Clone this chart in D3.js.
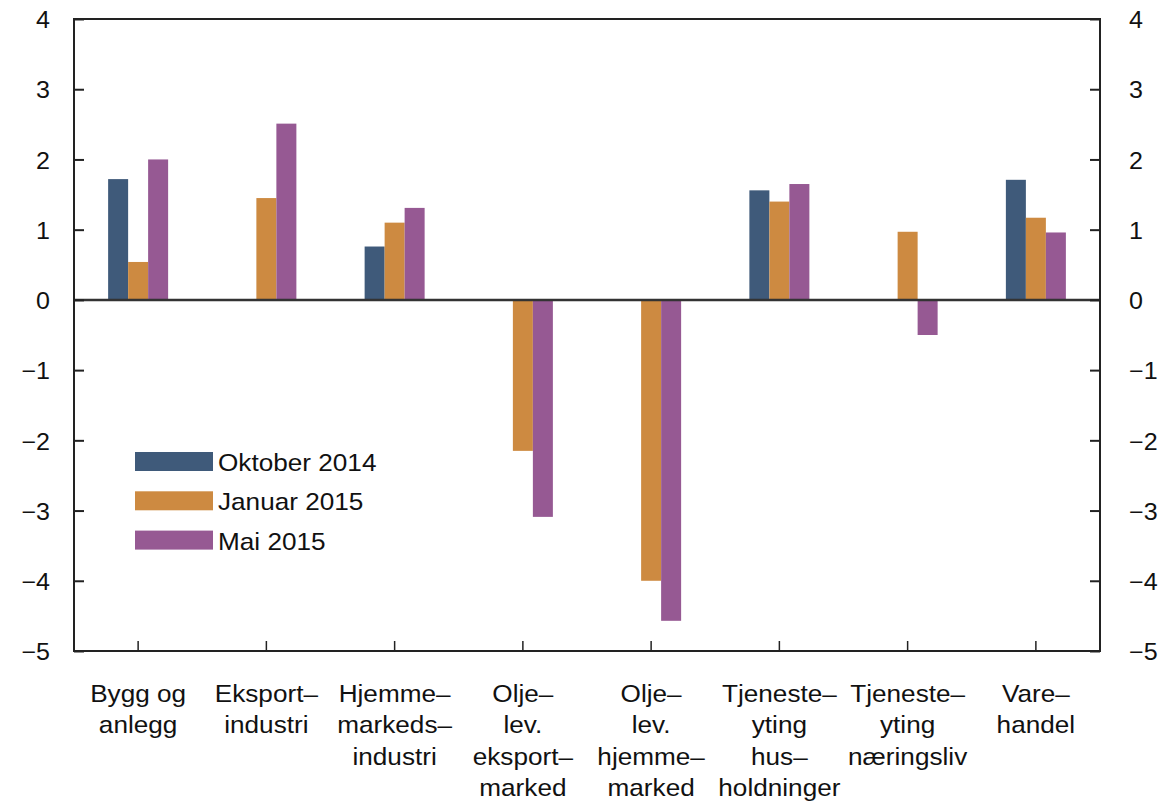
<!DOCTYPE html>
<html>
<head>
<meta charset="utf-8">
<script src="https://cdn.jsdelivr.net/npm/d3@7"></script>
<style>
  html, body { margin: 0; padding: 0; background: #fff; }
  svg { display: block; font-family: "Liberation Sans", Arial, Helvetica, sans-serif; }
</style>
</head>
<body>
<svg id="chart" width="1166" height="801"></svg>
<script>
// Sector categories, each label split into lines
const categories = [
  ["Bygg og", "anlegg"],
  ["Eksport\u2013", "industri"],
  ["Hjemme\u2013", "markeds\u2013", "industri"],
  ["Olje\u2013", "lev.", "eksport\u2013", "marked"],
  ["Olje\u2013", "lev.", "hjemme\u2013", "marked"],
  ["Tjeneste\u2013", "yting", "hus\u2013", "holdninger"],
  ["Tjeneste\u2013", "yting", "næringsliv"],
  ["Vare\u2013", "handel"]
];
const seriesNames = ["Oktober 2014", "Januar 2015", "Mai 2015"];
const oktober2014 = [1.72, null, 0.76, null, null, 1.56, null, 1.71];
const januar2015 = [0.54, 1.45, 1.10, -2.15, -4.00, 1.40, 0.97, 1.17];
const mai2015 = [2.00, 2.51, 1.31, -3.09, -4.57, 1.65, -0.50, 0.96];
const yTicks = [4, 3, 2, 1, 0, -1, -2, -3, -4, -5];
const colors = ["#3f5a7a", "#cd8a41", "#965993"];

const series = [oktober2014, januar2015, mai2015];

const svg = d3.select("#chart");
const plotLeft = 74, plotRight = 1100, plotTop = 19, plotBottom = 651;
const wide = 1.09; // horizontal widening of the text face

const x = d3.scaleBand().domain(d3.range(categories.length)).range([plotLeft, plotRight]).paddingInner(0).paddingOuter(0);
const xs = d3.scaleBand().domain(d3.range(series.length)).range([-30, 30]);
const y = d3.scaleLinear().domain([-5, 4]).range([plotBottom, plotTop]);

// Bars
series.forEach((vals, si) => {
  svg.append("g")
    .selectAll("rect")
    .data(vals.map((v, i) => ({ v, i })).filter(d => d.v !== null))
    .join("rect")
    .attr("x", d => x(d.i) + x.bandwidth() / 2 + xs(si))
    .attr("width", xs.bandwidth())
    .attr("y", d => y(Math.max(0, d.v)))
    .attr("height", d => Math.abs(y(d.v) - y(0)))
    .attr("fill", colors[si]);
});

// Zero line
svg.append("line")
  .attr("x1", plotLeft).attr("x2", plotRight)
  .attr("y1", y(0)).attr("y2", y(0))
  .attr("stroke", "#333").attr("stroke-width", 2.5);

// Frame
svg.append("rect")
  .attr("x", plotLeft).attr("y", plotTop)
  .attr("width", plotRight - plotLeft).attr("height", plotBottom - plotTop)
  .attr("fill", "none").attr("stroke", "#222").attr("stroke-width", 2);

const fmt = v => (v < 0 ? "\u2212" + Math.abs(v) : String(v));

// Left axis
const yl = svg.append("g").attr("transform", `translate(${plotLeft},0)`)
  .call(d3.axisLeft(y).tickValues(yTicks).tickSize(-10).tickPadding(24).tickFormat(fmt));
// Right axis
const yr = svg.append("g").attr("transform", `translate(${plotRight},0)`)
  .call(d3.axisRight(y).tickValues(yTicks).tickSize(-10).tickPadding(29).tickFormat(fmt));
[yl, yr].forEach(g => {
  g.select(".domain").remove();
  g.selectAll(".tick line").attr("stroke", "#222").attr("stroke-width", 2);
  g.selectAll(".tick text")
    .attr("font-size", 23).attr("fill", "#111")
    .attr("font-family", "Liberation Sans, Arial, sans-serif")
    .attr("dy", "0.38em");
});
yr.selectAll(".tick text").attr("text-anchor", "start");
// widen tick labels about their anchor point
[yl, yr].forEach(g => {
  g.selectAll(".tick text").each(function () {
    const t = d3.select(this);
    const ax = +t.attr("x");
    t.attr("x", 0).attr("transform", `translate(${ax},0) scale(${wide},1)`);
  });
});

// Bottom axis ticks (inside) and multi-line labels
const xb = svg.append("g").attr("transform", `translate(0,${plotBottom})`)
  .call(d3.axisBottom(x).tickSize(-10).tickFormat(""));
xb.select(".domain").remove();
xb.selectAll(".tick line").attr("stroke", "#222").attr("stroke-width", 1.5);

const labels = svg.append("g");
categories.forEach((lines, i) => {
  const cx = x(i) + x.bandwidth() / 2;
  const t = labels.append("text")
    .attr("transform", `translate(${cx},0) scale(${wide},1)`)
    .attr("text-anchor", "middle")
    .attr("font-size", 24)
    .attr("fill", "#111");
  lines.forEach((ln, j) => {
    t.append("tspan")
      .attr("x", 0)
      .attr("y", 702 + j * 31.5)
      .text(ln);
  });
});

// Legend
const legend = svg.append("g");
seriesNames.forEach((name, i) => {
  const gy = 452 + i * 39.3;
  legend.append("rect")
    .attr("x", 135).attr("y", gy)
    .attr("width", 78).attr("height", 19)
    .attr("fill", colors[i]);
  legend.append("text")
    .attr("transform", `translate(218,${gy + 19}) scale(${wide},1)`)
    .attr("font-size", 24)
    .attr("fill", "#111")
    .text(name);
});
</script>
</body>
</html>
